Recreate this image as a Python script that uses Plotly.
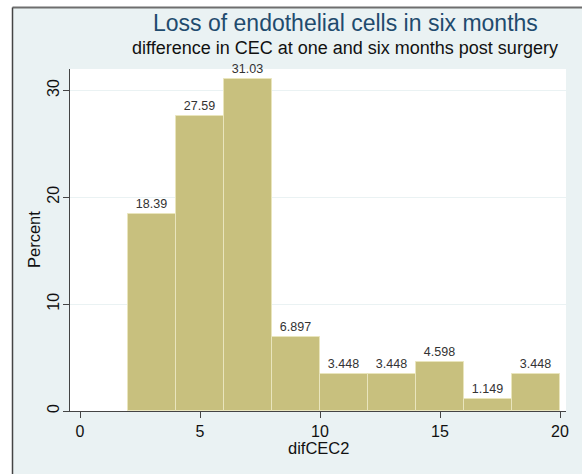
import plotly.graph_objects as go

# Data
bin_starts = [2, 4, 6, 8, 10, 12, 14, 16, 18]
bin_width = 2
percents = [18.39, 27.59, 31.03, 6.897, 3.448, 3.448, 4.598, 1.149, 3.448]
x_ticks = [0, 5, 10, 15, 20]
y_ticks = [0, 10, 20, 30]
title_text = "Loss of endothelial cells in six months"
subtitle_text = "difference in CEC at one and six months post surgery"
x_title = "difCEC2"
y_title = "Percent"

FONT = "Liberation Sans, Arial, sans-serif"
W, H = 582, 474
ML, MR, MT, MB = 70, 16, 69, 63
PW = W - ML - MR
PH = H - MT - MB


def px_x(p):
    return (p - ML) / PW


def px_y(p):
    return (H - MB - p) / PH


centers = [s + bin_width / 2 for s in bin_starts]

fig = go.Figure()
fig.add_trace(go.Bar(
    x=centers,
    y=percents,
    width=[bin_width] * len(bin_starts),
    marker=dict(color="#c8c07e", line=dict(color="#e9e5bd", width=1)),
    texttemplate="%{y:.4g}",
    textposition="outside",
    textfont=dict(family=FONT, size=12.5, color="#333333"),
    cliponaxis=False,
    hoverinfo="x+y",
))

shapes = [
    # white outer margin strips
    dict(type="rect", xref="paper", yref="paper", x0=px_x(-5), x1=px_x(12), y0=px_y(H + 5), y1=px_y(-5),
         fillcolor="white", line=dict(width=0), layer="above"),
    dict(type="rect", xref="paper", yref="paper", x0=px_x(-5), x1=px_x(W + 5), y0=px_y(7), y1=px_y(-5),
         fillcolor="white", line=dict(width=0), layer="above"),
    # frame lines
    dict(type="line", xref="paper", yref="paper", x0=px_x(12.5), x1=px_x(W + 5), y0=px_y(7.5), y1=px_y(7.5),
         line=dict(color="#6e6e6e", width=2), layer="above"),
    dict(type="line", xref="paper", yref="paper", x0=px_x(12.5), x1=px_x(12.5), y0=px_y(7.5), y1=px_y(H + 5),
         line=dict(color="#444444", width=1.5), layer="above"),
]

annotations = [
    dict(text=title_text, xref="paper", yref="paper", x=px_x(345), y=px_y(23), showarrow=False,
         xanchor="center", yanchor="middle", font=dict(family=FONT, size=23, color="#1f4b6e")),
    dict(text=subtitle_text, xref="paper", yref="paper", x=px_x(345), y=px_y(48), showarrow=False,
         xanchor="center", yanchor="middle", font=dict(family=FONT, size=18, color="#111111")),
    dict(text=x_title, xref="paper", yref="paper", x=px_x(318), y=px_y(448), showarrow=False,
         xanchor="center", yanchor="middle", font=dict(family=FONT, size=16.5, color="#111111")),
    dict(text=y_title, xref="paper", yref="paper", x=px_x(34), y=px_y(240), showarrow=False,
         textangle=-90, xanchor="center", yanchor="middle",
         font=dict(family=FONT, size=16.5, color="#111111")),
]

fig.update_layout(
    width=W, height=H,
    margin=dict(l=ML, r=MR, t=MT, b=MB, pad=0),
    paper_bgcolor="#eaf2f3",
    plot_bgcolor="white",
    showlegend=False,
    bargap=0,
    shapes=shapes,
    annotations=annotations,
    font=dict(family=FONT, color="#111111"),
    xaxis=dict(
        range=[-0.417, 20.25],
        tickvals=x_ticks,
        ticks="outside", ticklen=6, tickcolor="#444444",
        showline=True, linecolor="#444444", linewidth=1,
        showgrid=False, zeroline=False,
        tickfont=dict(family=FONT, size=16, color="#111111"),
        automargin=False,
    ),
    yaxis=dict(
        range=[0, 32],
        tickvals=y_ticks,
        tickangle=-90,
        ticklabelstandoff=-2,
        ticks="outside", ticklen=6, tickcolor="#444444",
        showline=True, linecolor="#444444", linewidth=1,
        showgrid=True, gridcolor="#eaf2f3", gridwidth=1,
        zeroline=False,
        tickfont=dict(family=FONT, size=16, color="#111111"),
        automargin=False,
    ),
)

fig.write_html("out.html", config={"displayModeBar": False},
               post_script="document.body.style.margin='0';")
